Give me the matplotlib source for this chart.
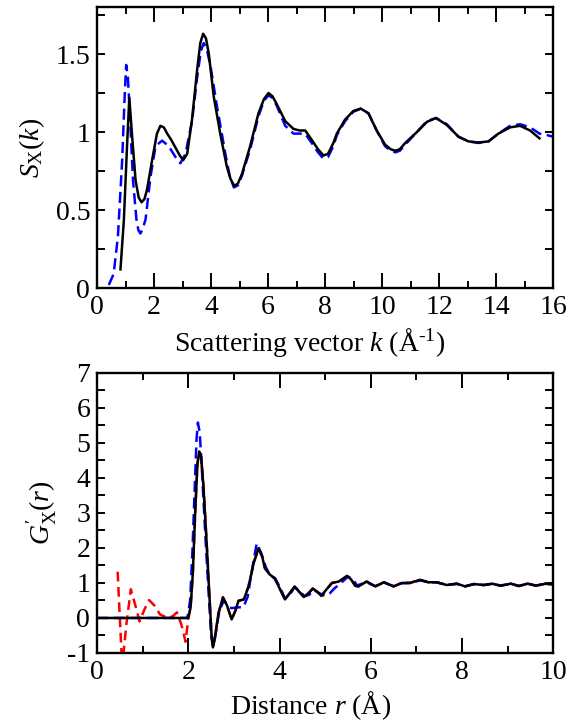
import matplotlib
matplotlib.use("Agg")
import matplotlib.pyplot as plt
from matplotlib.ticker import MultipleLocator, FuncFormatter

# ---------------------------------
# Data
# ---------------------------------
# top panel: S_X(k), black = model, blue dashed = experiment
k_black = [0.82, 0.94, 1.05, 1.13, 1.23, 1.35, 1.46, 1.56, 1.66, 1.75, 1.93, 2.10, 2.22,
           2.34, 2.46, 2.60, 2.75, 2.90, 3.02, 3.16, 3.33, 3.51, 3.62, 3.72, 3.82, 3.92,
           4.09, 4.33, 4.55, 4.68, 4.81, 4.94, 5.08, 5.37, 5.66, 5.85, 6.01, 6.15, 6.30,
           6.60, 6.89, 7.10, 7.30, 7.53, 7.75, 7.94, 8.10, 8.29, 8.41, 8.70, 8.99, 9.25,
           9.52, 9.81, 10.10, 10.30, 10.46, 10.62, 10.81, 11.22, 11.57, 11.89, 12.27,
           12.68, 13.03, 13.38, 13.73, 14.08, 14.49, 14.84, 15.19, 15.52]
s_black = [0.12, 0.44, 0.91, 1.22, 0.97, 0.69, 0.58, 0.55, 0.57, 0.63, 0.82, 0.99, 1.04,
           1.03, 0.99, 0.95, 0.90, 0.85, 0.82, 0.86, 1.08, 1.40, 1.57, 1.63, 1.60, 1.50,
           1.23, 0.98, 0.78, 0.70, 0.655, 0.67, 0.73, 0.91, 1.12, 1.21, 1.25, 1.23, 1.18,
           1.07, 1.02, 1.01, 1.01, 0.95, 0.89, 0.85, 0.86, 0.93, 0.99, 1.08, 1.135, 1.15,
           1.12, 1.01, 0.92, 0.89, 0.88, 0.89, 0.93, 1.00, 1.065, 1.09, 1.045,
           0.97, 0.94, 0.933, 0.94, 0.99, 1.03, 1.04, 1.01, 0.96]

k_blue = [0.41, 0.58, 0.73, 0.88, 0.96, 1.02, 1.08, 1.13, 1.26, 1.38, 1.45, 1.52, 1.60,
          1.70, 1.87, 2.05, 2.28, 2.51, 2.75, 2.92, 3.10, 3.33, 3.51, 3.64, 3.74, 3.85,
          3.98, 4.21, 4.50, 4.65, 4.80, 4.95, 5.08, 5.37, 5.66, 5.85, 6.01, 6.15, 6.30,
          6.60, 6.89, 7.10, 7.30, 7.53, 7.75, 7.94, 8.10, 8.29, 8.41, 8.70, 8.99, 9.25,
          9.52, 9.81, 10.10, 10.30, 10.46, 10.62, 10.81, 11.22, 11.57, 11.89, 12.27,
          12.68, 13.03, 13.38, 13.73, 14.08, 14.49, 14.84, 15.19, 15.52, 15.80, 16.0]
s_blue = [0.02, 0.09, 0.33, 0.82, 1.20, 1.43, 1.35, 1.18, 0.69, 0.44, 0.37, 0.35, 0.38,
          0.44, 0.71, 0.91, 0.945, 0.91, 0.84, 0.80, 0.86, 1.07, 1.35, 1.52, 1.57, 1.53,
          1.42, 1.16, 0.86, 0.72, 0.645, 0.66, 0.72, 0.89, 1.10, 1.20, 1.235, 1.22, 1.17,
          1.04, 0.99, 0.99, 0.99, 0.93, 0.87, 0.83, 0.84, 0.91, 0.98, 1.07, 1.13, 1.15,
          1.12, 1.01, 0.91, 0.88, 0.87, 0.88, 0.92, 1.00, 1.07, 1.09, 1.05,
          0.97, 0.94, 0.93, 0.94, 0.99, 1.04, 1.05, 1.03, 0.99, 0.98, 0.97]

# bottom panel: G'_X(r)
r_black = [0.0, 2.00, 2.05, 2.10, 2.15, 2.20, 2.24, 2.28, 2.33, 2.40, 2.46, 2.51, 2.54,
           2.58, 2.66, 2.76, 2.85, 2.95, 3.03, 3.10, 3.22, 3.32, 3.44, 3.54, 3.62, 3.68,
           3.78, 3.90, 4.00, 4.12, 4.22, 4.33, 4.43, 4.53, 4.63, 4.73, 4.83, 4.92, 5.02,
           5.15, 5.30, 5.48, 5.57, 5.66, 5.73, 5.91, 6.10, 6.29, 6.50, 6.68, 6.86, 7.08,
           7.26, 7.45, 7.67, 7.89, 8.07, 8.26, 8.48, 8.66, 8.85, 9.07, 9.25, 9.44, 9.62,
           9.84, 10.0]
g_black = [0.0, 0.0, 0.30, 1.30, 3.00, 4.40, 4.75, 4.60, 3.80, 2.20, 0.70, -0.50, -0.84,
           -0.60, 0.13, 0.59, 0.35, -0.04, 0.20, 0.49, 0.53, 0.90, 1.60, 1.99, 1.75, 1.42,
           1.25, 1.12, 0.85, 0.53, 0.70, 0.90, 0.75, 0.60, 0.70, 0.84, 0.75, 0.63, 0.80,
           1.00, 1.04, 1.20, 1.10, 0.92, 0.90, 1.04, 0.90, 1.02, 0.90, 1.00, 1.00, 1.09,
           1.02, 1.02, 0.94, 0.98, 0.90, 0.97, 0.94, 0.98, 0.92, 0.98, 0.91, 0.98, 0.92,
           0.98, 0.96]

r_blue = [0.0, 1.98, 2.04, 2.09, 2.14, 2.18, 2.21, 2.25, 2.30, 2.38, 2.45, 2.50, 2.54,
          2.60, 2.68, 2.78, 2.88, 2.95, 3.05, 3.21, 3.30, 3.40, 3.50, 3.60, 3.70, 3.80,
          3.90, 4.00, 4.12, 4.22, 4.33, 4.43, 4.55, 4.65, 4.75, 4.85, 5.00, 5.10, 5.20,
          5.35, 5.50, 5.60, 5.70, 5.91, 6.10, 6.29, 6.50, 6.68, 6.86, 7.08, 7.26, 7.45,
          7.67, 7.89, 8.07, 8.26, 8.48, 8.66, 8.85, 9.07, 9.25, 9.44, 9.62, 9.84, 10.0]
g_blue = [0.0, 0.0, 0.50, 1.90, 3.70, 5.10, 5.58, 5.30, 4.20, 2.20, 0.60, -0.50, -0.80,
          -0.45, 0.20, 0.50, 0.32, 0.28, 0.30, 0.31, 0.60, 1.40, 2.13, 1.85, 1.45, 1.20,
          1.14, 0.90, 0.56, 0.65, 0.88, 0.78, 0.62, 0.66, 0.80, 0.72, 0.63, 0.70, 0.84,
          1.00, 1.18, 1.12, 0.93, 1.02, 0.91, 1.01, 0.91, 0.99, 1.00, 1.07, 1.03, 1.01,
          0.95, 0.97, 0.91, 0.96, 0.94, 0.97, 0.93, 0.97, 0.92, 0.97, 0.93, 0.97, 0.96]

# red dashed: low-r part (only shown below 2 A), continues under the black curve
r_red_low = [0.45, 0.55, 0.64, 0.74, 0.83, 0.93, 1.04, 1.14, 1.26, 1.38, 1.55, 1.66,
             1.75, 1.85, 1.94]
g_red_low = [1.32, -1.40, -0.20, 0.82, 0.40, -0.10, 0.25, 0.51, 0.35, 0.10, 0.0, 0.05,
             0.16, -0.20, -0.68]

# ---------------------------------
# Style
# ---------------------------------
plt.rcParams["font.family"] = "serif"
plt.rcParams["font.serif"] = ["Liberation Serif", "DejaVu Serif"]
plt.rcParams["mathtext.fontset"] = "custom"
plt.rcParams["mathtext.rm"] = "Liberation Serif"
plt.rcParams["mathtext.it"] = "Liberation Serif:italic"
plt.rcParams["axes.unicode_minus"] = False
plt.rcParams["lines.scale_dashes"] = False

FS = 20
TFS = 20
LW = 1.8


def fmt(v, pos):
    return "%g" % v


def style_axes(ax):
    for sp in ax.spines.values():
        sp.set_linewidth(1.7)
    ax.tick_params(which="both", direction="in", top=True, right=True,
                   labelsize=TFS, width=1.4, pad=5)
    ax.tick_params(axis="x", which="major", length=11)
    ax.tick_params(axis="x", which="minor", length=5)
    ax.tick_params(axis="y", which="major", length=6)
    ax.tick_params(axis="y", which="minor", length=6)
    ax.yaxis.set_major_formatter(FuncFormatter(fmt))
    ax.xaxis.set_major_formatter(FuncFormatter(fmt))


fig = plt.figure(figsize=(5.78, 7.22), dpi=100)

# ---------------------------------
# Top: structure factor
# ---------------------------------
ax1 = fig.add_axes([0.168, 0.601, 0.789, 0.389])
ax1.plot(k_blue, s_blue, color="#0000ff", lw=LW, dashes=(8, 4))
ax1.plot(k_black, s_black, color="black", lw=LW)
ax1.set_xlim(0, 16)
ax1.set_ylim(0, 1.8)
ax1.xaxis.set_major_locator(MultipleLocator(2))
ax1.xaxis.set_minor_locator(MultipleLocator(1))
ax1.yaxis.set_major_locator(MultipleLocator(0.5))
ax1.yaxis.set_minor_locator(MultipleLocator(0.25))
style_axes(ax1)
ax1.set_xlabel(r"Scattering vector $k$ (Å$^{\text{-1}}$)", fontsize=FS, labelpad=4)
ax1.xaxis.label.set_x(0.467)
ax1.set_ylabel(r"$S_{\rm X}(k)$", fontsize=FS, labelpad=6)

# ---------------------------------
# Bottom: pair distribution
# ---------------------------------
ax2 = fig.add_axes([0.168, 0.0956, 0.789, 0.388])
r_red = r_red_low + r_black[1:]
g_red = g_red_low + g_black[1:]
ax2.plot(r_red, g_red, color="#ff0000", lw=LW, dashes=(7, 4))
ax2.plot(r_blue, g_blue, color="#0000ff", lw=LW, dashes=(8, 4))
ax2.plot(r_black, g_black, color="black", lw=LW)
ax2.set_xlim(0, 10)
ax2.set_ylim(-1, 7)
ax2.xaxis.set_major_locator(MultipleLocator(2))
ax2.xaxis.set_minor_locator(MultipleLocator(1))
ax2.yaxis.set_major_locator(MultipleLocator(1))
ax2.yaxis.set_minor_locator(MultipleLocator(0.5))
style_axes(ax2)
ax2.set_xlabel(r"Distance $r$ (Å)", fontsize=FS, labelpad=3)
ax2.xaxis.label.set_x(0.467)
ax2.set_ylabel(r"$G^{\prime}_{\rm X}(r)$", fontsize=FS, labelpad=6)

fig.savefig("out.png", dpi=100)
